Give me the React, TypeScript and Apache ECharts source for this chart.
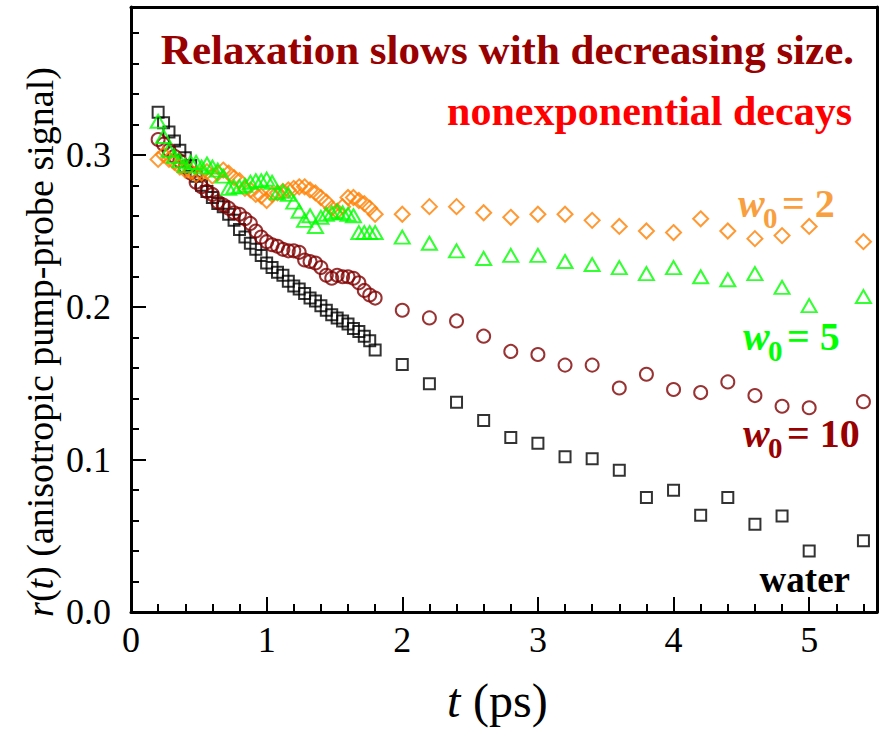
import { useEffect, useRef } from 'react';
import * as echarts from 'echarts';

const timeValues = [
  0.2, 0.24, 0.28, 0.32, 0.36, 0.4, 0.44, 0.48, 0.52, 0.56, 0.6, 0.64, 0.68, 0.72, 0.76, 0.8, 0.84, 0.88, 0.92, 0.96,
  1.0, 1.04, 1.08, 1.12, 1.16, 1.2, 1.24, 1.28, 1.32, 1.36, 1.4, 1.44, 1.48, 1.52, 1.56, 1.6, 1.64, 1.68, 1.72, 1.76, 1.8,
  2.0, 2.2, 2.4, 2.6, 2.8, 3.0, 3.2, 3.4, 3.6, 3.8, 4.0, 4.2, 4.4, 4.6, 4.8, 5.0, 5.4,
];

const waterValues = [
  0.328, 0.321, 0.315, 0.309, 0.303, 0.298, 0.293, 0.286, 0.28, 0.276, 0.272, 0.268, 0.266, 0.261, 0.257, 0.251, 0.246, 0.242, 0.238, 0.234,
  0.229, 0.226, 0.223, 0.221, 0.217, 0.214, 0.212, 0.209, 0.206, 0.204, 0.201, 0.198, 0.195, 0.193, 0.191, 0.189, 0.186, 0.184, 0.181, 0.178, 0.172,
  0.1624, 0.1497, 0.1377, 0.1256, 0.1145, 0.1108, 0.1018, 0.1005, 0.093, 0.0751, 0.0799, 0.0635, 0.0751, 0.0576, 0.063, 0.04, 0.0468,
];

const w10Values = [
  0.31, 0.307, 0.303, 0.299, 0.296, 0.292, 0.288, 0.282, 0.279, 0.276, 0.274, 0.269, 0.267, 0.265, 0.262, 0.261, 0.258, 0.255, 0.25, 0.246,
  0.243, 0.241, 0.24, 0.238, 0.237, 0.237, 0.236, 0.231, 0.23, 0.229, 0.226, 0.221, 0.219, 0.221, 0.22, 0.22, 0.219, 0.216, 0.211, 0.208, 0.206,
  0.198, 0.193, 0.191, 0.181, 0.171, 0.169, 0.162, 0.162, 0.147, 0.156, 0.146, 0.144, 0.151, 0.142, 0.135, 0.134, 0.138,
];

const w5Values = [
  0.322, 0.312, 0.303, 0.299, 0.296, 0.293, 0.295, 0.295, 0.292, 0.294, 0.292, 0.29, 0.286, 0.278, 0.279, 0.279, 0.28, 0.282, 0.283, 0.283,
  0.284, 0.282, 0.275, 0.276, 0.274, 0.269, 0.263, 0.257, 0.26, 0.253, 0.259, 0.261, 0.262, 0.263, 0.262, 0.261, 0.26, 0.249, 0.249, 0.249, 0.249,
  0.246, 0.242, 0.237, 0.232, 0.234, 0.234, 0.23, 0.228, 0.226, 0.222, 0.226, 0.22, 0.218, 0.222, 0.213, 0.201, 0.207,
];

const w2Values = [
  0.297, 0.3, 0.297, 0.295, 0.292, 0.29, 0.289, 0.287, 0.288, 0.289, 0.286, 0.288, 0.29, 0.288, 0.285, 0.283, 0.278, 0.277, 0.274, 0.273,
  0.27, 0.274, 0.275, 0.276, 0.277, 0.278, 0.279, 0.279, 0.277, 0.275, 0.272, 0.269, 0.265, 0.263, 0.266, 0.272, 0.272, 0.27, 0.268, 0.265, 0.261,
  0.261, 0.266, 0.266, 0.262, 0.259, 0.261, 0.261, 0.257, 0.253, 0.25, 0.249, 0.258, 0.25, 0.245, 0.247, 0.253, 0.243,
];

const xTickLabels = ['0', '1', '2', '3', '4', '5'];
const yTickLabels = ['0.0', '0.1', '0.2', '0.3'];

const FONT = 'Liberation Serif';

export default function App() {
  const ref = useRef<HTMLDivElement>(null);
  useEffect(() => {
    if (!ref.current) return;
    const chart = echarts.init(ref.current, undefined, { renderer: 'svg' });
    const pairs = (vals: number[]) => timeValues.map((t, i) => [t, vals[i]]);
    const txt = (x: number, y: number, text: string, fs: number, color: string, weight = 'bold', style = 'normal', align = 'left') => ({
      type: 'text', x, y,
      style: { text, fontSize: fs, fontFamily: FONT, fontWeight: weight, fontStyle: style, fill: color, align, verticalAlign: 'middle' },
    });
    const wLabel = (x: number, baseline: number, value: string, color: string) => [
      txt(x, baseline - 14, 'w', 40, color, 'bold', 'italic'),
      txt(x + 25, baseline + 1, '0', 29, color),
      txt(x + 44, baseline - 14, '= ' + value, 40, color),
    ];
    const xFmt = (v: number) => {
      const r = Math.round(v);
      return Math.abs(v - r) < 1e-6 && xTickLabels[r] !== undefined ? xTickLabels[r] : '';
    };
    const yFmt = (v: number) => {
      const r = Math.round(v * 10);
      return Math.abs(v * 10 - r) < 1e-6 && yTickLabels[r] !== undefined ? yTickLabels[r] : '';
    };
    const frameLine = () => ({ show: true, onZero: false, lineStyle: { color: '#000000', width: 3 } });
    const major = () => ({ show: true, inside: true, length: 15, lineStyle: { color: '#000000', width: 2 } });
    const minor = () => ({ show: true, inside: true, length: 8, lineStyle: { color: '#000000', width: 2 } });
    const hollow = (c: string) => ({ color: 'rgba(0,0,0,0)', borderColor: c, borderWidth: 2 });
    chart.setOption({
      animation: false,
      grid: { left: 131, top: 7, right: 5, bottom: 122 },
      xAxis: [
        {
          type: 'value', min: 0, max: 5.5, interval: 1, position: 'bottom',
          axisLine: frameLine(), splitLine: { show: false }, axisTick: major(),
          axisLabel: { formatter: xFmt, color: '#000000', fontFamily: FONT, fontSize: 36, margin: 10 },
        },
        {
          type: 'value', min: 0, max: 5.5, interval: 0.2, position: 'bottom',
          axisLine: { show: false }, splitLine: { show: false }, axisTick: minor(), axisLabel: { show: false },
        },
        {
          type: 'value', min: 0, max: 5.5, position: 'top',
          axisLine: frameLine(), splitLine: { show: false }, axisTick: { show: false }, axisLabel: { show: false },
        },
      ],
      yAxis: [
        {
          type: 'value', min: 0, max: 0.397, interval: 0.1, position: 'left',
          axisLine: frameLine(), splitLine: { show: false }, axisTick: major(),
          axisLabel: { formatter: yFmt, color: '#000000', fontFamily: FONT, fontSize: 36, margin: 20 },
        },
        {
          type: 'value', min: 0, max: 0.397, interval: 0.02, position: 'left',
          axisLine: { show: false }, splitLine: { show: false }, axisTick: minor(), axisLabel: { show: false },
        },
        {
          type: 'value', min: 0, max: 0.397, position: 'right',
          axisLine: frameLine(), splitLine: { show: false }, axisTick: { show: false }, axisLabel: { show: false },
        },
      ],
      series: [
        { name: 'water', type: 'scatter', data: pairs(waterValues), symbol: 'rect', symbolSize: 11, itemStyle: hollow('#000000') },
        { name: 'w0 = 10', type: 'scatter', data: pairs(w10Values), symbol: 'circle', symbolSize: 13, itemStyle: hollow('#800000') },
        { name: 'w0 = 2', type: 'scatter', data: pairs(w2Values), symbol: 'diamond', symbolSize: 15, itemStyle: hollow('#ff8000') },
        { name: 'w0 = 5', type: 'scatter', data: pairs(w5Values), symbol: 'triangle', symbolSize: [15, 13], itemStyle: hollow('#00ff00') },
      ],
      graphic: [
        txt(854, 49, 'Relaxation slows with decreasing size.', 43, '#990000', 'bold', 'normal', 'right'),
        txt(852, 111, 'nonexponential decays', 42, '#ff0000', 'bold', 'normal', 'right'),
        ...wLabel(738, 217, '2', '#f8a040'),
        ...wLabel(743, 350, '5', '#00ff00'),
        ...wLabel(743, 447, '10', '#990000'),
        txt(850, 579, 'water', 37, '#000000', 'bold', 'normal', 'right'),
        txt(447, 700, 't', 48, '#000000', 'normal', 'italic', 'left'),
        txt(473, 700, '(ps)', 48, '#000000', 'normal', 'normal', 'left'),
        {
          type: 'text', x: 40, y: 342, rotation: Math.PI / 2,
          style: {
            text: '{i|r}{n|(}{i|t}{n|) (anisotropic pump-probe signal)}', align: 'center', verticalAlign: 'middle', fill: '#000000',
            fontSize: 38, fontFamily: FONT,
            rich: {
              i: { fontStyle: 'italic', fontSize: 38, fontFamily: FONT, fill: '#000000' },
              n: { fontSize: 38, fontFamily: FONT, fill: '#000000' },
            },
          },
        },
      ],
    } as any);
    return () => chart.dispose();
  }, []);
  return <div ref={ref} style={{ position: 'absolute', left: 0, top: 0, width: 882, height: 734 }} />;
}
